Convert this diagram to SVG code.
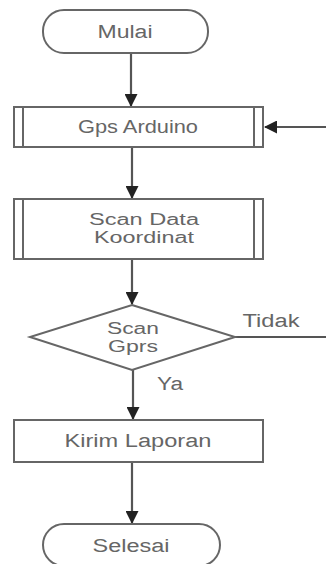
<svg xmlns="http://www.w3.org/2000/svg" width="326" height="564" viewBox="0 0 326 564">
<defs>
<style>
.s{fill:#fff;stroke:#666;stroke-width:2}
.l{fill:none;stroke:#555;stroke-width:2.2}
.d{stroke:#666;stroke-width:2}
.t{font-family:"Liberation Sans",Arial,sans-serif;font-size:18px;fill:#666;text-anchor:middle}
.t2{font-size:16px}
</style>
<marker id="a" markerWidth="13" markerHeight="13" viewBox="0 0 13 13" refX="12" refY="6.5" orient="auto" markerUnits="userSpaceOnUse">
<path d="M0,0 L13,6.5 L0,13 Z" fill="#222"/>
</marker>
</defs>
<rect width="326" height="564" fill="#fff"/>
<g id="connectors">
<line class="l" x1="131" y1="53" x2="131" y2="106" marker-end="url(#a)"/>
<line class="l" x1="326" y1="127" x2="265" y2="127" marker-end="url(#a)"/>
<line class="l" x1="132" y1="147" x2="132" y2="198" marker-end="url(#a)"/>
<line class="l" x1="132" y1="259" x2="132" y2="304" marker-end="url(#a)"/>
<line class="l" x1="235" y1="337" x2="326" y2="337"/>
<line class="l" x1="133" y1="370" x2="133" y2="419" marker-end="url(#a)"/>
<line class="l" x1="132" y1="462" x2="132" y2="523" marker-end="url(#a)"/>
<text class="t" x="271" y="327" textLength="57" lengthAdjust="spacingAndGlyphs">Tidak</text>
<text class="t" x="170" y="390" textLength="26" lengthAdjust="spacingAndGlyphs">Ya</text>
</g>
<g id="mulai">
<rect class="s" x="43" y="10" width="165" height="43" rx="21"/>
<text class="t" x="125" y="38" textLength="55" lengthAdjust="spacingAndGlyphs">Mulai</text>
</g>
<g id="gps">
<rect class="s" x="14" y="107" width="249" height="40"/>
<line class="d" x1="23" y1="107" x2="23" y2="147"/>
<line class="d" x1="254" y1="107" x2="254" y2="147"/>
<text class="t" x="138" y="133" textLength="120" lengthAdjust="spacingAndGlyphs">Gps Arduino</text>
</g>
<g id="scandata">
<rect class="s" x="14" y="199" width="249" height="60"/>
<line class="d" x1="23" y1="199" x2="23" y2="259"/>
<line class="d" x1="254" y1="199" x2="254" y2="259"/>
<text class="t t2" x="144" y="225" textLength="110" lengthAdjust="spacingAndGlyphs">Scan Data</text>
<text class="t t2" x="144" y="243" textLength="100" lengthAdjust="spacingAndGlyphs">Koordinat</text>
</g>
<g id="scangprs">
<polygon class="s" points="132,305 235,337 132,370 30,337"/>
<text class="t t2" x="133" y="334" textLength="52" lengthAdjust="spacingAndGlyphs">Scan</text>
<text class="t t2" x="133" y="352" textLength="50" lengthAdjust="spacingAndGlyphs">Gprs</text>
</g>
<g id="kirim">
<rect class="s" x="14" y="420" width="249" height="42"/>
<text class="t" x="138" y="447" textLength="147" lengthAdjust="spacingAndGlyphs">Kirim Laporan</text>
</g>
<g id="selesai">
<rect class="s" x="43" y="524" width="177" height="42" rx="21"/>
<text class="t" x="131" y="552" textLength="77" lengthAdjust="spacingAndGlyphs">Selesai</text>
</g>
</svg>
